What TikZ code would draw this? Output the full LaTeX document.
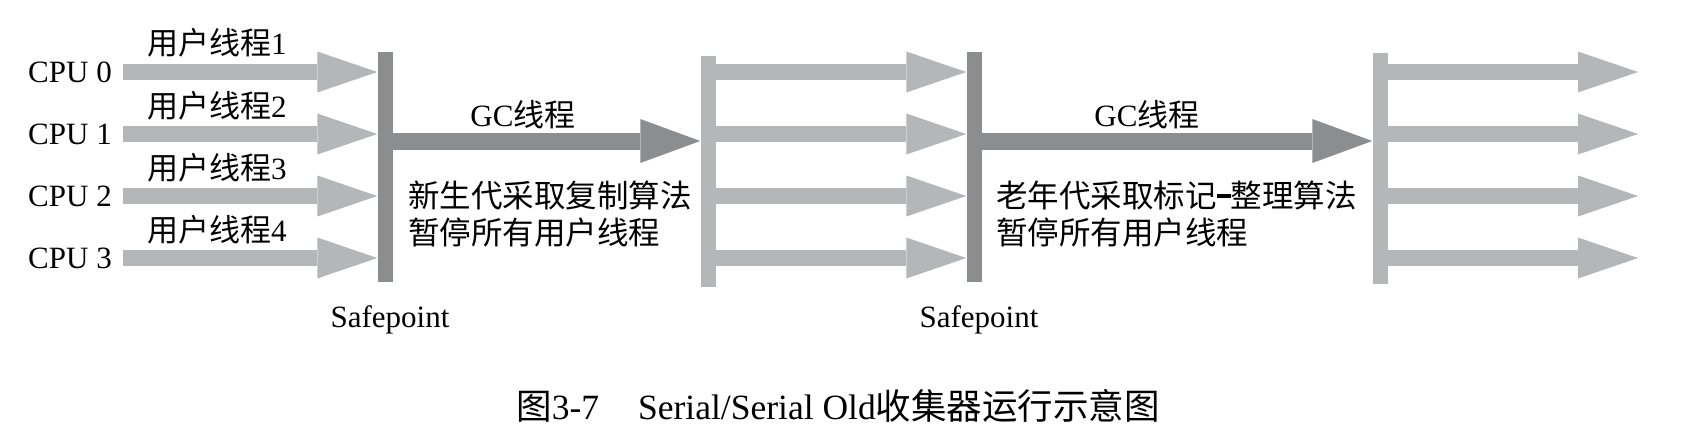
\documentclass[tikz,border=0pt]{standalone}
\usepackage{fontspec}
\setmainfont{Liberation Serif}
\newfontfamily\cjk{Noto Sans CJK SC}
\usetikzlibrary{arrows.meta}
\definecolor{darkgc}{HTML}{8C8D8F}
\definecolor{lightgc}{HTML}{B5B6B8}
\begin{document}
\begin{tikzpicture}[x=1pt,y=-1pt,
  lbl/.style={font=\fontsize{31}{36}\selectfont, inner sep=0pt},
  desc/.style={font=\fontsize{31.5}{37}\selectfont, inner sep=0pt, align=left},
  darkbar/.style={fill=darkgc, draw=none, inner sep=0pt, minimum width=15pt, minimum height=230pt},
  lightbar/.style={fill=lightgc, draw=none, inner sep=0pt, minimum width=15pt, minimum height=231pt},
  userarrow/.style={draw=lightgc, line width=16pt, -{Triangle[length=60pt,width=41pt,line width=0pt]}},
  gcarrow/.style={draw=darkgc, line width=17pt, -{Triangle[length=60pt,width=44pt,line width=0pt]}},
]
\useasboundingbox (0,0) rectangle (1683,432);

% bars
\node[darkbar] (sp1) at (385,167) {};
\node[lightbar] (b2) at (708,171) {};
\node[darkbar] (sp2) at (974,167) {};
\node[lightbar] (b4) at (1380,168) {};

% CPU labels
\node[lbl, anchor=east] (cpu0) at (112,72) {CPU 0};
\node[lbl, anchor=east] (cpu1) at (112,134) {CPU 1};
\node[lbl, anchor=east] (cpu2) at (112,196) {CPU 2};
\node[lbl, anchor=east] (cpu3) at (112,258) {CPU 3};

% user thread labels
\node[lbl, anchor=west] (u1) at (147,43) {{\cjk 用户线程}1};
\node[lbl, anchor=west] (u2) at (147,106) {{\cjk 用户线程}2};
\node[lbl, anchor=west] (u3) at (147,168) {{\cjk 用户线程}3};
\node[lbl, anchor=west] (u4) at (147,230) {{\cjk 用户线程}4};

% user arrows before safepoint 1
\foreach \i in {0,1,2,3}{
  \coordinate (s\i) at ([xshift=11pt]cpu\i.east);
  \draw[userarrow] (s\i) -- (s\i -| sp1.west);
}

% user arrows between b2 and sp2
\foreach \i/\y in {0/72,1/134,2/196,3/258}{
  \coordinate (m\i) at (b2.east |- 0,\y);
  \draw[userarrow] (m\i) -- (m\i -| sp2.west);
}

% user arrows after b4
\foreach \i/\y in {0/72,1/134,2/196,3/258}{
  \coordinate (r\i) at (b4.east |- 0,\y);
  \coordinate (re\i) at (1638,\y);
  \draw[userarrow] (r\i) -- (re\i);
}

% GC arrows
\coordinate (g1) at (sp1.east |- 0,141);
\draw[gcarrow] (g1) -- (g1 -| b2.west);
\coordinate (g2) at (sp2.east |- 0,141);
\draw[gcarrow] (g2) -- (g2 -| b4.west);

\node[lbl] (gc1) at (523,115) {GC{\cjk 线程}};
\node[lbl] (gc2) at (1147,115) {GC{\cjk 线程}};

% descriptions
\node[desc, anchor=west] (d1) at (408,214) {{\cjk 新生代采取复制算法}\\{\cjk 暂停所有用户线程}};
\node[desc, anchor=west] (d2) at (996,214) {{\cjk 老年代采取标记}\rule[0.3em]{0.45em}{0.12em}{\cjk 整理算法}\\{\cjk 暂停所有用户线程}};

% safepoint labels
\node[lbl] (spl1) at (390,320) {Safepoint};
\node[lbl] (spl2) at (979,320) {Safepoint};

% caption
\node[font=\fontsize{35.5}{40}\selectfont, inner sep=0pt] (cap) at (838,406) {{\cjk 图}3-7\hspace{1.1em}Serial/Serial Old{\cjk 收集器运行示意图}};
\end{tikzpicture}
\end{document}
